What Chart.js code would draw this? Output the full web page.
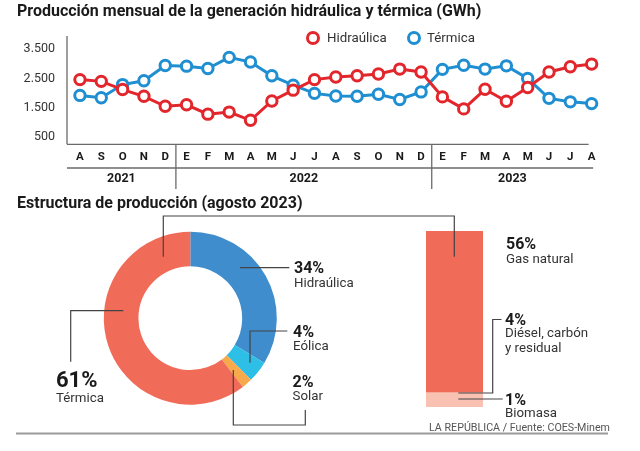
<!DOCTYPE html>
<html><head><meta charset="utf-8">
<script src="https://cdn.jsdelivr.net/npm/chart.js@4.4.0/dist/chart.umd.min.js"></script>
<style>
html,body{margin:0;padding:0;background:#fff;}
body{width:640px;height:451px;position:relative;overflow:hidden;font-family:Roboto,"Noto Sans",sans-serif;color:#222;}
.t{position:absolute;white-space:nowrap;z-index:5;}
.b{font-weight:700;}
canvas{position:absolute;}
.ring{position:absolute;box-sizing:border-box;width:14px;height:14px;border-radius:50%;border:3.5px solid;z-index:5;}
</style></head><body>
<div class="t b" style="left:17px;top:1px;font-size:16px;line-height:20px;color:#1a1a1a;">Producción mensual de la generación hidráulica y térmica (GWh)</div>
<div class="t b" style="left:17px;top:193px;font-size:16px;line-height:20px;color:#1a1a1a;">Estructura de producción (agosto 2023)</div>

<div class="ring" style="left:306px;top:31px;border-color:#e2262c;"></div>
<div class="t" style="left:327px;top:30px;font-size:13.3px;line-height:16px;color:#333;">Hidraúlica</div>
<div class="ring" style="left:407px;top:31px;border-color:#1f8fd1;"></div>
<div class="t" style="left:427px;top:30px;font-size:13.3px;line-height:16px;color:#333;">Térmica</div>

<canvas id="lineChart" width="640" height="190" style="left:0;top:0;"></canvas>
<canvas id="barChart" width="57" height="176" style="left:426px;top:231px;"></canvas>
<canvas id="donutChart" width="640" height="261" style="left:0;top:190px;"></canvas>
<div id="labels"></div>
<div class="t" style="left:429px;top:420px;font-size:10.7px;line-height:15px;color:#555;">LA REPÚBLICA / Fuente: COES-Minem</div>

<script>
// ---------- DATA ----------
const months = ['A','S','O','N','D','E','F','M','A','M','J','J','A','S','O','N','D','E','F','M','A','M','J','J','A'];
const hidraulica = [2460,2400,2120,1890,1550,1600,1280,1350,1070,1730,2100,2460,2550,2590,2650,2820,2720,1870,1460,2130,1720,2190,2720,2900,2990];
const termica    = [1920,1840,2290,2420,2940,2920,2840,3220,3060,2590,2270,1990,1900,1890,1960,1780,2040,2810,2950,2820,2930,2500,1820,1700,1640];
const yTicks = [500,1500,2500,3500];
const years = ['2021','2022','2023'];
const yearFirstIdx = [0,5,17];
const yearLastIdx = [4,16,24];

const donutLabels = ['Hidraúlica','Eólica','Solar','Térmica'];
const donutValues = [34,4,2,61];
const barLabels = ['Biomasa','Diésel, carbón y residual','Gas natural'];
const barValues = [1,4,56];

const RED='#e2262c', BLUE='#1f8fd1';
const fmt = v => String(v).replace(/\B(?=(\d{3})+(?!\d))/g,'.');

// ---------- LINE CHART ----------
const axisPlugin = {
  id:'axisDeco',
  afterDraw(chart){
    const {ctx, chartArea:ca, scales:{x}} = chart;
    const L = ca.left - 2.3;
    const px = i => x.getPixelForValue(i);
    ctx.save();
    ctx.strokeStyle='#6a6a6a'; ctx.lineWidth=1.3;
    const ln=(a,b,c,d)=>{ctx.beginPath();ctx.moveTo(a,b);ctx.lineTo(c,d);ctx.stroke();};
    ln(L, ca.top, L, ca.bottom);
    ln(L, ca.bottom, px(24)-3, ca.bottom);
    ln(L, 168, px(24)+1.5, 168);
    const bounds=[L];
    for(let k=1;k<years.length;k++){
      const s=(px(yearLastIdx[k-1])+px(yearFirstIdx[k]))/2;
      bounds.push(s);
      ln(s, ca.bottom, s, 189);
    }
    bounds.push(px(24)+1.5);
    ctx.fillStyle='#1a1a1a';
    ctx.font='700 12.5px Roboto, sans-serif';
    ctx.textAlign='center'; ctx.textBaseline='middle';
    years.forEach((y,k)=>ctx.fillText(y,(bounds[k]+bounds[k+1])/2,179));
    ctx.restore();
  }
};

new Chart(document.getElementById('lineChart'),{
  type:'line',
  data:{labels:months,datasets:[
    {label:'Hidraúlica',data:hidraulica,borderColor:RED,pointBorderColor:RED,pointBackgroundColor:'#fff',borderWidth:3,pointRadius:5.2,pointHoverRadius:5.2,pointBorderWidth:3,tension:0},
    {label:'Térmica',data:termica,borderColor:BLUE,pointBorderColor:BLUE,pointBackgroundColor:'#fff',borderWidth:3,pointRadius:5.2,pointHoverRadius:5.2,pointBorderWidth:3,tension:0}
  ]},
  options:{
    responsive:false,animation:false,
    layout:{padding:{top:36,right:37.7,left:0,bottom:0}},
    plugins:{legend:{display:false},tooltip:{enabled:false}},
    scales:{
      y:{min:250,max:3950,
        afterFit:s=>{s.width=69.3;},
        afterBuildTicks:s=>{s.ticks=yTicks.map(v=>({value:v}));},
        grid:{display:false,drawTicks:false},border:{display:false},
        ticks:{padding:14.3,color:'#333',font:{family:'Roboto',size:12.5},callback:v=>fmt(v)}},
      x:{offset:true,
        afterFit:s=>{s.height=45.7;},
        grid:{display:false,drawTicks:false},border:{display:false},
        ticks:{padding:5.8,autoSkip:false,maxRotation:0,color:'#1a1a1a',font:{family:'Roboto',size:11.5,weight:'700'}}}
    }
  },
  plugins:[axisPlugin]
});

// ---------- BAR (stacked) ----------
const barColors=['#f8c1b2','#f8c1b2','#f06b58'];
new Chart(document.getElementById('barChart'),{
  type:'bar',
  data:{labels:['Térmica'],datasets:barValues.map((v,i)=>({label:barLabels[i],data:[v],backgroundColor:barColors[i],borderWidth:0,barPercentage:1,categoryPercentage:1}))},
  options:{responsive:false,animation:false,layout:{padding:0},
    plugins:{legend:{display:false},tooltip:{enabled:false}},
    scales:{x:{stacked:true,display:false},y:{stacked:true,display:false,min:0,max:barValues.reduce((a,b)=>a+b,0)}}}
});

// ---------- DOUGHNUT ----------
const leaderPlugin={
  id:'leaders',
  afterDraw(chart){
    const ctx=chart.ctx; const o=190;
    ctx.save(); ctx.strokeStyle='#444'; ctx.lineWidth=1.2;
    const poly=pts=>{ctx.beginPath();pts.forEach((p,i)=>i?ctx.lineTo(p[0],p[1]-o):ctx.moveTo(p[0],p[1]-o));ctx.stroke();};
    poly([[163.3,256.7],[163.3,216],[454.3,216],[454.3,256.7]]);
    poly([[240,267.7],[289.3,267.7]]);
    poly([[123.3,310.7],[70.7,310.7],[70.7,361.7]]);
    poly([[250,362.7],[250,331],[287.3,331]]);
    poly([[233.3,370],[233.3,425],[305.3,425],[305.3,410]]);
    poly([[458.3,393],[492.7,393],[492.7,319.5],[501.5,319.5]]);
    poly([[458.3,399],[502.7,399]]);
    // bottom rule
    ctx.strokeStyle='#9a9a9a'; ctx.lineWidth=2;
    poly([[16,433.5],[608,433.5]]);
    ctx.restore();
  }
};
new Chart(document.getElementById('donutChart'),{
  type:'doughnut',
  data:{labels:donutLabels,datasets:[{data:donutValues,backgroundColor:['#3f8dcc','#2dbfe6','#f7a94b','#f06b58'],borderWidth:0,hoverOffset:0}]},
  options:{responsive:false,animation:false,cutout:'60%',
    layout:{padding:{left:103.8,top:41.7,right:363.2,bottom:46.3}},
    plugins:{legend:{display:false},tooltip:{enabled:false}}},
  plugins:[leaderPlugin]
});

// ---------- TEXT LABELS ----------
const lab=document.getElementById('labels');
function addText(txt,x,y,size,bold){
  const d=document.createElement('div');
  d.className='t'+(bold?' b':'');
  const lh=Math.round(size*1.2);
  d.style.cssText=`left:${x}px;top:${y-lh/2}px;font-size:${size}px;line-height:${lh}px;color:${bold?'#1a1a1a':'#333'};`;
  d.textContent=txt; lab.appendChild(d);
}
addText(donutValues[0]+'%',294,267.7,16,true); addText(donutLabels[0],294,283.3,13.3,false);
addText(donutValues[1]+'%',293,331,16,true); addText(donutLabels[1],293,346,13.3,false);
addText(donutValues[2]+'%',292.5,381,16,true); addText(donutLabels[2],292.5,396,13.3,false);
addText(donutValues[3]+'%',56,380,22,true); addText(donutLabels[3],56,397.7,13.3,false);
addText(barValues[2]+'%',506,243.3,16,true); addText('Gas natural',506,259,13.3,false);
addText(barValues[1]+'%',505,319.5,16,true); addText('Diésel, carbón',505,333.3,13.3,false); addText('y residual',505,347.7,13.3,false);
addText(barValues[0]+'%',505,399,16,true); addText(barLabels[0],505,413,13.3,false);
</script>
</body></html>
